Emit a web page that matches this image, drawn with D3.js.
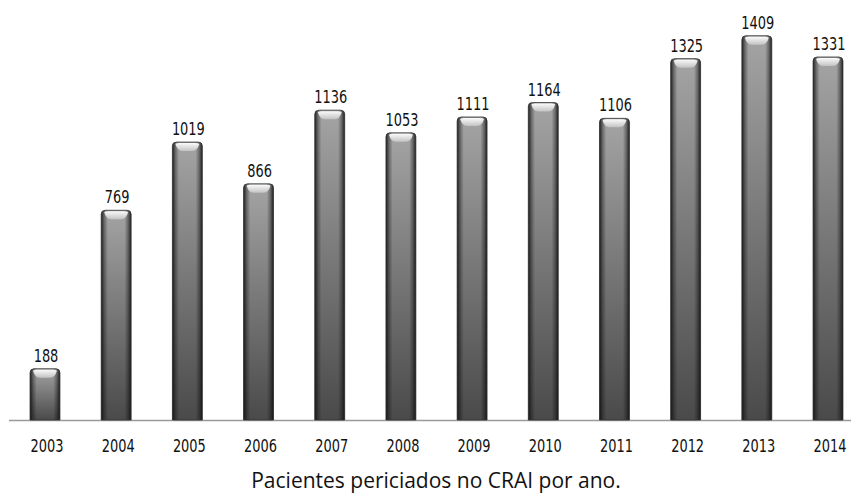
<!DOCTYPE html>
<html><head><meta charset="utf-8">
<script src="https://cdn.jsdelivr.net/npm/d3@7/dist/d3.min.js"></script>
<style>body{margin:0;background:#fff}svg{display:block}</style>
</head><body>
<script>
const years = ["2003","2004","2005","2006","2007","2008","2009","2010","2011","2012","2013","2014"];
const values = [188,769,1019,866,1136,1053,1111,1164,1106,1325,1409,1331];
const caption = "Pacientes periciados no CRAI por ano.";

const W = 855, H = 495;
const svg = d3.select("body").append("svg").attr("width", W).attr("height", H);
const x = d3.scaleBand().domain(years).range([9.4, 863.6]).paddingInner(0.58).paddingOuter(0.29);
const y = d3.scaleLinear().domain([0, 1540]).range([420, 0]);

const defs = svg.append("defs");
const gv = defs.append("linearGradient").attr("id","gv").attr("x1",0).attr("y1",0).attr("x2",0).attr("y2",1);
gv.append("stop").attr("offset","0%").attr("stop-color","#a4a4a4");
gv.append("stop").attr("offset","100%").attr("stop-color","#4a4a4a");
const gh = defs.append("linearGradient").attr("id","gh").attr("x1",0).attr("y1",0).attr("x2",1).attr("y2",0);
[[0,0.9],[0.1,0.4],[0.22,0],[0.78,0],[0.9,0.4],[1,0.9]].forEach(([o,a])=>
  gh.append("stop").attr("offset",o*100+"%").attr("stop-color","#111").attr("stop-opacity",a));
const gc = defs.append("linearGradient").attr("id","gc").attr("x1",0).attr("y1",0).attr("x2",0).attr("y2",1);
gc.append("stop").attr("offset","0%").attr("stop-color","#ffffff");
gc.append("stop").attr("offset","100%").attr("stop-color","#c4c4c4");

// baseline
svg.append("line").attr("x1",9).attr("x2",851).attr("y1",420.5).attr("y2",420.5)
  .attr("stroke","#9a9a9a").attr("stroke-width",1.5);

const bw = x.bandwidth();
const g = svg.selectAll("g.bar").data(years.map((yr,i)=>({yr,v:values[i]}))).join("g").attr("class","bar");
const r = 4;
const barPath = d=>{
  const x0 = x(d.yr), x1 = x0+bw, t = y(d.v), b = y(0);
  return `M${x0},${b}L${x0},${t+r}Q${x0},${t} ${x0+r},${t}L${x1-r},${t}Q${x1},${t} ${x1},${t+r}L${x1},${b}Z`;
};
g.append("path").attr("d", barPath).attr("fill","url(#gv)");
g.append("path").attr("d", barPath).attr("fill","url(#gh)").attr("stroke","#333").attr("stroke-width",0.8);
// top cap highlight
g.append("path").attr("d", d=>{
  const x0 = x(d.yr), x1 = x0+bw, t = y(d.v);
  return `M${x0+3},${t+2}Q${x0+4},${t+1} ${x0+7},${t+1}L${x1-7},${t+1}Q${x1-4},${t+1} ${x1-3},${t+2}Q${x1-5},${t+9} ${x1-10},${t+9}L${x0+10},${t+9}Q${x0+5},${t+9} ${x0+3},${t+2}Z`;
}).attr("fill","url(#gc)").attr("opacity",0.95);

const font = "'DejaVu Sans Condensed','DejaVu Sans',sans-serif";
g.append("text")
  .attr("transform", d=>`translate(${x(d.yr)+bw/2+1},${y(d.v)-7}) scale(0.8,1)`)
  .attr("text-anchor","middle").attr("font-family",font).attr("font-size",18).attr("fill","#111")
  .text(d=>d.v);

const xa = svg.append("g").attr("transform","translate(0,420)")
  .call(d3.axisBottom(x).tickSize(0));
xa.select(".domain").remove();
xa.selectAll(".tick text")
  .attr("y",0).attr("dy",null)
  .attr("transform","translate(2,31.5) scale(0.8,1)")
  .attr("font-family",font).attr("font-size",18).attr("fill","#111");

svg.append("text").attr("x",436).attr("y",488).attr("text-anchor","middle")
  .attr("font-family","'Open Sans',sans-serif").attr("font-size",21).attr("fill","#111").text(caption);
</script>
</body></html>
